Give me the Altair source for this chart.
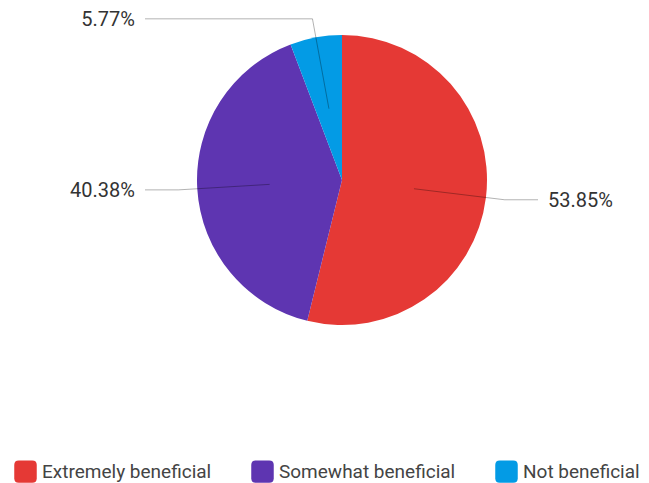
import math
import altair as alt
import pandas as pd

categories = ["Extremely beneficial", "Somewhat beneficial", "Not beneficial"]
values = [53.85, 40.38, 5.77]
labels = ["53.85%", "40.38%", "5.77%"]
colors = ["#E53935", "#5E35B1", "#039BE5"]

W, H = 649, 483
CX, CY, R = 342, 180, 145

df = pd.DataFrame({"category": categories, "value": values, "order": list(range(len(values)))})

# leader line geometry derived from slice mid-angles
total = sum(values)
rows, trows = [], []
cum = 0.0
for cat, v, lab in zip(categories, values, labels):
    mid = (cum + v / 2) / total * 2 * math.pi
    cum += v
    sx, sy = math.sin(mid), -math.cos(mid)
    ix, iy = CX + 0.5 * R * sx, CY + 0.5 * R * sy
    ex, ey = CX + 1.13 * R * sx, CY + 1.13 * R * sy
    right = sx > 0
    endx = 538 if right else 145
    rows += [
        {"category": cat, "pt": 0, "px": ix, "py": iy},
        {"category": cat, "pt": 1, "px": ex, "py": ey},
        {"category": cat, "pt": 2, "px": endx, "py": ey},
    ]
    trows.append({"category": cat, "label": lab, "tx": endx + (10 if right else -10), "ty": ey + 1, "side": "R" if right else "L"})
lines = pd.DataFrame(rows)
texts = pd.DataFrame(trows)

xs = alt.Scale(domain=[0, W], range=[0, W], nice=False, zero=False)
ys = alt.Scale(domain=[0, H], range=[0, H], nice=False, zero=False)

rounded = "M -0.6,-1 L 0.6,-1 Q 1,-1 1,-0.6 L 1,0.6 Q 1,1 0.6,1 L -0.6,1 Q -1,1 -1,0.6 L -1,-0.6 Q -1,-1 -0.6,-1 Z"

arc = alt.Chart(df).mark_arc(outerRadius=R).encode(
    theta=alt.Theta("value:Q", stack=True),
    order=alt.Order("order:Q"),
    color=alt.Color(
        "category:N",
        scale=alt.Scale(domain=categories, range=colors),
        legend=alt.Legend(
            title=None,
            orient="none",
            legendX=14,
            legendY=460,
            direction="horizontal",
            symbolType=rounded,
            symbolSize=506,
            symbolStrokeWidth=0,
            labelFont="Roboto",
            labelFontSize=19,
            labelColor="#444444",
            labelOffset=5,
            columnPadding=39,
            labelLimit=300,
        ),
    ),
    x=alt.value(CX),
    y=alt.value(CY),
)

leader = alt.Chart(lines).mark_line(color="#000000", strokeWidth=1, opacity=0.3).encode(
    x=alt.X("px:Q", scale=xs, axis=None),
    y=alt.Y("py:Q", scale=ys, axis=None),
    detail="category:N",
    order="pt:Q",
)

tl = alt.Chart(texts).transform_filter(alt.datum.side == "L").mark_text(
    align="right", baseline="middle", font="Roboto", fontSize=20, color="#333333"
).encode(x=alt.X("tx:Q", scale=xs, axis=None), y=alt.Y("ty:Q", scale=ys, axis=None), text="label:N")

tr = alt.Chart(texts).transform_filter(alt.datum.side == "R").mark_text(
    align="left", baseline="middle", font="Roboto", fontSize=20, color="#333333"
).encode(x=alt.X("tx:Q", scale=xs, axis=None), y=alt.Y("ty:Q", scale=ys, axis=None), text="label:N")

chart = alt.layer(arc, leader, tl, tr).properties(
    width=W, height=H, autosize=alt.AutoSizeParams(type="none"), padding=0
).configure_view(stroke=None)

chart.save("out.html", embed_options={"renderer": "svg", "actions": False})
